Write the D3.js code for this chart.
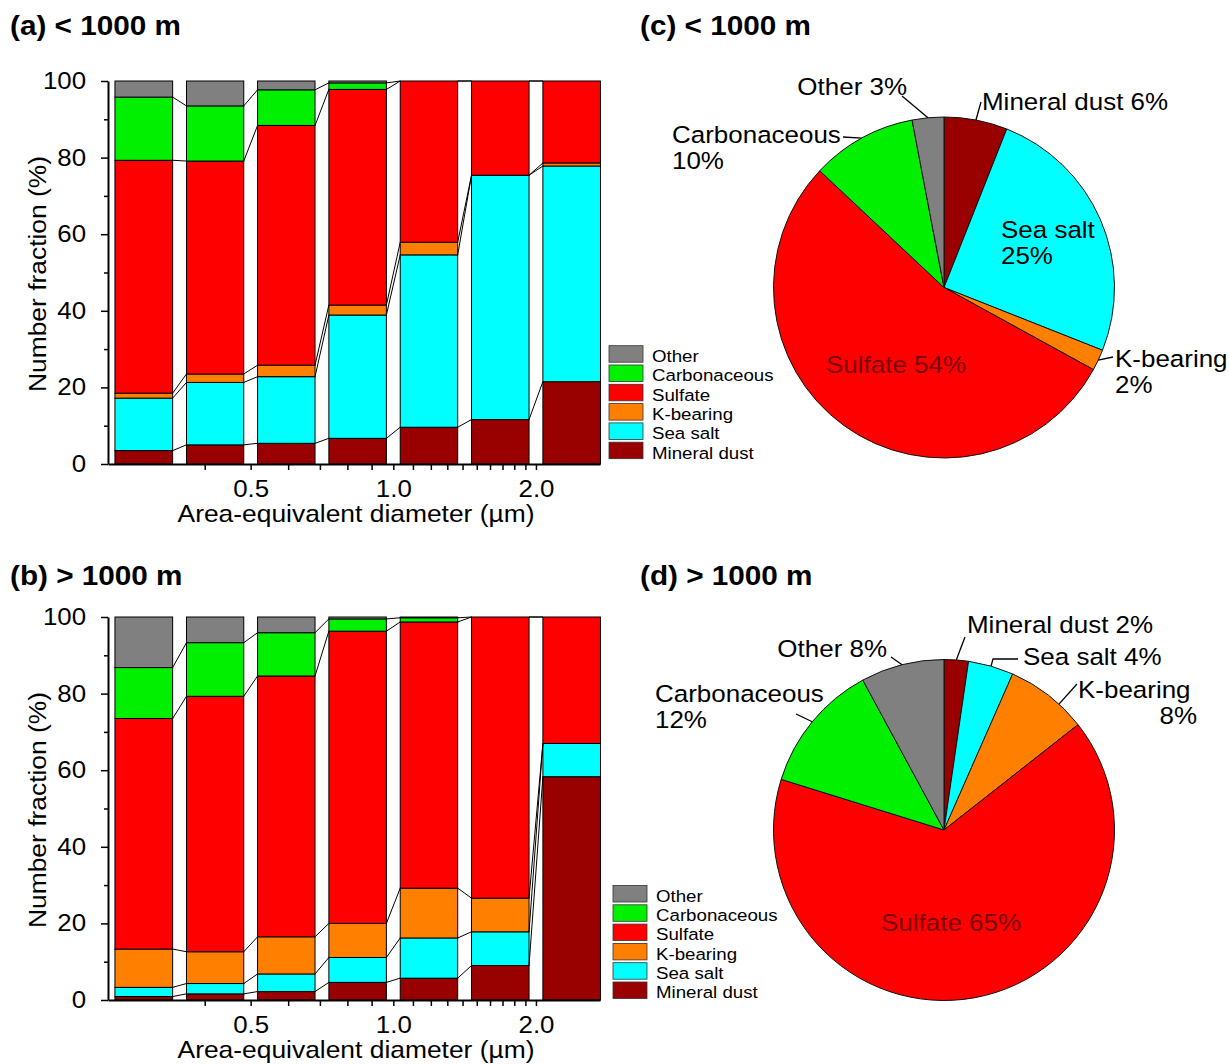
<!DOCTYPE html>
<html>
<head>
<meta charset="utf-8">
<script src="https://cdn.jsdelivr.net/npm/d3@7"></script>
<style>
  body { margin: 0; background: #fff; }
  svg { display: block; }
</style>
</head>
<body>
<svg id="fig" width="1229" height="1064"></svg>
<script>
// stacking order, bottom to top
const categories = ["Mineral dust", "Sea salt", "K-bearing", "Sulfate", "Carbonaceous", "Other"];
const legendOrder = ["Other", "Carbonaceous", "Sulfate", "K-bearing", "Sea salt", "Mineral dust"];
const colors = ["#990000", "#00ffff", "#ff8000", "#ff0000", "#00f000", "#808080"];

// size bins (area-equivalent diameter, µm), log spaced
const binEdges = [0.25, 0.354, 0.5, 0.707, 1.0, 1.414, 2.0, 2.83];
const xTicks = [0.4, 0.5, 0.6, 0.7, 0.8, 0.9, 1.0, 1.1, 1.2, 1.3, 1.4, 1.5, 1.6, 1.7, 1.8, 1.9, 2.0];
const xTickLabels = [0.5, 1.0, 2.0];
const yMajor = [0, 20, 40, 60, 80, 100];
const yMinor = [10, 30, 50, 70, 90];

// (a) < 1000 m : number fraction (%) per bin
const lowMineral = [3.5, 5.0, 5.4, 6.7, 9.6, 11.6, 21.5];
const lowSeaSalt = [13.7, 16.3, 17.4, 32.2, 45.0, 63.8, 56.3];
const lowKBearing = [1.3, 2.2, 3.0, 2.6, 3.3, 0, 0.8];
const lowSulfate = [60.8, 55.6, 62.6, 56.3, 42.1, 24.6, 21.4];
const lowCarbon = [16.5, 14.4, 9.3, 1.7, 0, 0, 0];
const lowOther = [4.2, 6.5, 2.3, 0.5, 0, 0, 0];

// (b) > 1000 m
const highMineral = [0.9, 1.6, 2.2, 4.6, 5.7, 9.0, 58.3];
const highSeaSalt = [2.4, 2.7, 4.6, 6.5, 10.5, 8.8, 8.7];
const highKBearing = [10.0, 8.3, 9.7, 8.9, 13.0, 8.8, 0];
const highSulfate = [60.2, 66.7, 68.1, 76.3, 69.5, 73.4, 33.0];
const highCarbon = [13.3, 14.0, 11.3, 3.2, 1.1, 0, 0];
const highOther = [13.2, 6.7, 4.1, 0.5, 0.2, 0, 0];

// (c), (d) overall fractions (%), same category order
const pieLow = [6, 25, 2, 54, 10, 3];
const pieHigh = [2.3, 4.3, 7.8, 65.4, 12.3, 7.9];

const FONT = '"Liberation Sans", Arial, Helvetica, sans-serif';
const SX = 1.1; // glyphs in the figure are a bit wide
const color = d3.scaleOrdinal().domain(categories).range(colors);

const svg = d3.select('#fig');

function label(sel, x, y, str, size, opts = {}) {
  return sel.append('text')
    .attr('transform', `translate(${x},${y}) ${opts.rotate ? 'rotate(' + opts.rotate + ')' : ''} scale(${opts.sx || SX},1)`)
    .attr('text-anchor', opts.anchor || 'start')
    .attr('font-family', FONT)
    .attr('font-size', size)
    .attr('font-weight', opts.weight || 'normal')
    .attr('fill', opts.fill || '#000')
    .text(str);
}

function drawBars(top, series) {
  const g = svg.append('g');
  const x = d3.scaleLog().domain([0.25, 2.73]).range([108, 600]);
  const y = d3.scaleLinear().domain([0, 100]).range([top + 383, top]);

  const rows = binEdges.slice(0, -1).map((lo, i) => {
    const r = { lo: lo, hi: binEdges[i + 1] };
    categories.forEach((c, k) => r[c] = series[k][i]);
    return r;
  });
  const stacked = d3.stack().keys(categories)(rows);

  const barX0 = d => { const w = x(d.hi) - x(d.lo); return x(d.lo) + 0.097 * w; };
  const barX1 = d => { const w = x(d.hi) - x(d.lo); return x(d.hi) - 0.097 * w; };

  g.selectAll('g.layer')
    .data(stacked)
    .enter().append('g')
    .attr('class', 'layer')
    .attr('fill', s => color(s.key))
    .selectAll('rect')
    .data(s => s.filter(d => d[1] - d[0] > 0))
    .enter().append('rect')
    .attr('x', d => barX0(d.data))
    .attr('width', d => barX1(d.data) - barX0(d.data))
    .attr('y', d => y(d[1]))
    .attr('height', d => y(d[0]) - y(d[1]))
    .attr('stroke', '#000')
    .attr('stroke-width', 1);

  // connector lines between the boundaries of neighbouring bars
  const links = [];
  stacked.slice(0, -1).forEach(s => {
    for (let i = 0; i < s.length - 1; i++) {
      links.push([barX1(s[i].data), y(s[i][1]), barX0(s[i + 1].data), y(s[i + 1][1])]);
    }
  });
  g.selectAll('line.link')
    .data(links)
    .enter().append('line')
    .attr('class', 'link')
    .attr('x1', d => d[0]).attr('y1', d => d[1])
    .attr('x2', d => d[2]).attr('y2', d => d[3])
    .attr('stroke', '#000')
    .attr('stroke-width', 1);

  // y axis
  g.append('g')
    .attr('transform', 'translate(108,0)')
    .call(d3.axisLeft(y).tickValues(yMinor).tickSize(4).tickFormat(''))
    .call(a => a.select('.domain').remove())
    .selectAll('line').attr('stroke-width', 1.5);
  const ya = g.append('g')
    .attr('transform', 'translate(108,0)')
    .call(d3.axisLeft(y).tickValues(yMajor).tickSize(7).tickSizeOuter(0));
  ya.select('.domain').attr('stroke-width', 2);
  ya.selectAll('line').attr('stroke-width', 1.5);
  ya.selectAll('text')
    .attr('x', -22 / SX)
    .attr('transform', `scale(${SX},1)`)
    .attr('font-family', FONT)
    .attr('font-size', 23.5);

  // x axis
  const xa = g.append('g')
    .attr('transform', `translate(0,${y(0)})`)
    .call(d3.axisBottom(x).tickValues(xTicks).tickSize(6).tickPadding(10.5).tickSizeOuter(0)
      .tickFormat(d => xTickLabels.some(v => Math.abs(v - d) < 1e-9) ? d.toFixed(1) : ''));
  xa.select('.domain').attr('stroke-width', 2.2);
  xa.selectAll('line').attr('stroke-width', 1.5);
  xa.selectAll('text')
    .attr('transform', `scale(${SX},1)`)
    .attr('font-family', FONT)
    .attr('font-size', 23.5);

  label(g, 356, top + 441, 'Area-equivalent diameter (µm)', 24, { anchor: 'middle' });
  label(g, 46, top + 193, 'Number fraction (%)', 24, { anchor: 'middle', rotate: -90 });
}

function drawLegend(x0, y0) {
  const g = svg.append('g');
  legendOrder.forEach((c, i) => {
    const yy = y0 + i * 19.3;
    g.append('rect')
      .attr('x', x0).attr('y', yy)
      .attr('width', 34).attr('height', 16.5)
      .attr('fill', color(c))
      .attr('stroke', '#333').attr('stroke-width', 0.8);
    label(g, x0 + 43, yy + 16.3, c, 17);
  });
}

function drawPie(cx, cy, r, values, layout) {
  const g = svg.append('g');
  const data = categories.map((c, i) => ({ name: c, v: values[i] }));
  const arcs = d3.pie().sort(null).value(d => d.v)(data);
  const arc = d3.arc().innerRadius(0).outerRadius(r);

  g.selectAll('path')
    .data(arcs)
    .enter().append('path')
    .attr('transform', `translate(${cx},${cy})`)
    .attr('d', arc)
    .attr('fill', d => color(d.data.name))
    .attr('stroke', '#111')
    .attr('stroke-width', 1);

  const fs = 24.5, sx = 1.06;
  arcs.forEach(a => {
    const L = layout[a.data.name];
    if (!L) return;
    const pct = Math.round(a.data.v) + '%';
    if (L.leader) {
      const ang = L.angle !== undefined ? L.angle : (a.startAngle + a.endAngle) / 2;
      const px = cx + r * Math.sin(ang), py = cy - r * Math.cos(ang);
      const pts = [L.leader].concat(L.elbow ? [L.elbow] : []).concat([[px, py]]);
      g.append('path')
        .attr('d', d3.line()(pts))
        .attr('fill', 'none')
        .attr('stroke', '#000')
        .attr('stroke-width', 1.3);
    }
    if (L.wrap) {
      label(g, L.x, L.y, a.data.name, fs, { anchor: L.anchor, fill: L.fill, sx: sx });
      label(g, L.x2 !== undefined ? L.x2 : L.x, L.y + 26, pct, fs, { anchor: L.anchor2 || L.anchor, fill: L.fill, sx: sx });
    } else {
      label(g, L.x, L.y, a.data.name + ' ' + pct, fs, { anchor: L.anchor, fill: L.fill, sx: sx });
    }
  });
}

// label placement for the pies
const pieLowLayout = {
  "Other": { x: 907, y: 95, anchor: 'end', leader: [902, 96] },
  "Mineral dust": { x: 982, y: 110, leader: [981, 102] },
  "Carbonaceous": { x: 672, y: 143, wrap: true, leader: [843, 137] },
  "Sea salt": { x: 1001, y: 238, wrap: true },
  "Sulfate": { x: 826, y: 373, fill: '#7a0000' },
  "K-bearing": { x: 1115, y: 367, wrap: true, leader: [1113, 357] }
};
const pieHighLayout = {
  "Mineral dust": { x: 967, y: 633, leader: [965, 637] },
  "Sea salt": { x: 1023, y: 665, leader: [1018, 659], elbow: [993, 659] },
  "K-bearing": { x: 1078, y: 698, wrap: true, x2: 1197, anchor2: 'end', leader: [1077, 684], angle: 0.74 },
  "Other": { x: 887, y: 657, anchor: 'end', leader: [891, 657] },
  "Carbonaceous": { x: 655, y: 702, wrap: true, leader: [796, 714] },
  "Sulfate": { x: 881, y: 931, fill: '#7a0000' }
};

drawBars(81, [lowMineral, lowSeaSalt, lowKBearing, lowSulfate, lowCarbon, lowOther]);
drawBars(617, [highMineral, highSeaSalt, highKBearing, highSulfate, highCarbon, highOther]);
drawLegend(609, 345.7);
drawLegend(613, 885.5);
drawPie(944, 287.5, 170.5, pieLow, pieLowLayout);
drawPie(944, 830, 170.5, pieHigh, pieHighLayout);

label(svg, 10, 35, '(a) < 1000 m', 27, { weight: 'bold' });
label(svg, 10, 585, '(b) > 1000 m', 27, { weight: 'bold' });
label(svg, 640, 35, '(c) < 1000 m', 27, { weight: 'bold' });
label(svg, 640, 585, '(d) > 1000 m', 27, { weight: 'bold' });
</script>
</body>
</html>
